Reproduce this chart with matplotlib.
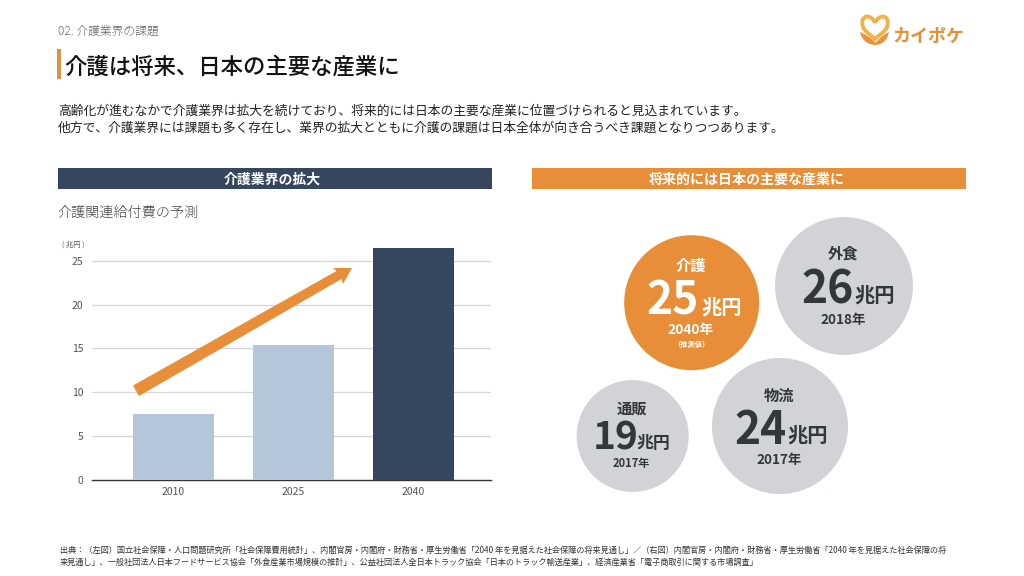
import matplotlib
matplotlib.use('Agg')
import matplotlib.pyplot as plt
from matplotlib.patches import Circle, Rectangle, Polygon, PathPatch
from matplotlib.path import Path

plt.rcParams['font.family'] = ['Noto Sans CJK JP', 'DejaVu Sans']

W, H = 1024, 576

# data
years = ['2010', '2025', '2040']
kyufu = [7.5, 15.4, 26.5]
yticks = [0, 5, 10, 15, 20, 25]
sectors = ['介護', '外食', '物流', '通販']
trillions = ['25', '26', '24', '19']
sector_years = ['2040年', '2018年', '2017年', '2017年']

ORANGE = '#E88E38'
NAVY = '#36465F'
BAR_LIGHT = '#B5C6DA'
GREY = '#D2D3D6'
DARK = '#33363A'

fig = plt.figure(figsize=(W / 100, H / 100), dpi=100, facecolor='white')

# pixel canvas for everything around the chart
bg = fig.add_axes([0, 0, 1, 1])
bg.set_xlim(0, W)
bg.set_ylim(H, 0)
bg.axis('off')


def txt(x, y, s, size, color='#222222', weight='regular', ha='left', ax=bg, zorder=5):
    # the CJK font sits a little high when centred, shift by font size
    ax.text(x, y + 0.15 * size, s, fontsize=size, color=color, fontweight=weight, ha=ha, va='center', zorder=zorder)


# header
txt(58, 29.5, '02. 介護業界の課題', 8.5, '#6A6A6A', 'light')
bg.add_patch(Rectangle((57, 49), 4, 30, color='#DB9445', lw=0))
txt(64.5, 64.5, '介護は将来、日本の主要な産業に', 16.15, '#111111', 'medium')
txt(58, 110, '高齢化が進むなかで介護業界は拡大を続けており、将来的には日本の主要な産業に位置づけられると見込まれています。', 9.22, '#222222')
txt(58, 127, '他方で、介護業界には課題も多く存在し、業界の拡大とともに介護の課題は日本全体が向き合うべき課題となりつつあります。', 9.22, '#222222')

# section bars
bg.add_patch(Rectangle((58, 168), 434, 21, color=NAVY, lw=0))
txt(272, 178, '介護業界の拡大', 10, 'white', 'bold', ha='center')
bg.add_patch(Rectangle((532, 168), 434, 21, color=ORANGE, lw=0))
txt(747, 178, '将来的には日本の主要な産業に', 10.1, 'white', 'bold', ha='center')

txt(57, 211, '介護関連給付費の予測', 10.15, '#444444', 'light')
txt(62, 243.5, '( 兆円 )', 5.2, '#555555')

# logo
heart = Path([(875, 23), (871, 13), (859, 15), (863, 27), (865, 32), (871, 35), (875, 39),
              (879, 35), (885, 32), (887, 27), (891, 15), (879, 13), (875, 23)],
             [Path.MOVETO] + [Path.CURVE4] * 12)
bg.add_patch(PathPatch(heart, fc='none', ec='#F0B24A', lw=2.8))
leaf_l = Path([(860, 32), (862, 41), (868, 45), (877, 45), (873, 39), (867, 35), (860, 32)],
              [Path.MOVETO] + [Path.CURVE4] * 6)
leaf_r = Path([(889, 32), (887, 41), (882, 45), (874, 45), (878, 39), (883, 35), (889, 32)],
              [Path.MOVETO] + [Path.CURVE4] * 6)
bg.add_patch(PathPatch(leaf_l, fc='#E9943C', ec='none'))
bg.add_patch(PathPatch(leaf_r, fc='#E9943C', ec='none'))
txt(928, 34, 'カイポケ', 13, '#E88E38', 'bold', ha='center')

# bar chart
ax = fig.add_axes([92 / W, 1 - 479.5 / H, 399 / W, 236 / H])
ax.set_facecolor('none')
ax.bar(range(3), kyufu, width=0.675, color=[BAR_LIGHT, BAR_LIGHT, NAVY], zorder=3)
ax.set_xlim(-0.677, 2.65)
ax.set_ylim(0, 236 / 8.74)
ax.set_xticks(range(3))
ax.set_xticklabels(years)
ax.set_yticks(yticks)
ax.tick_params(length=0, labelsize=7.5, labelcolor='#555555')
ax.tick_params(axis='x', pad=5.5)
ax.tick_params(axis='y', pad=6)
for v in yticks[1:]:
    ax.axhline(v, color='#D4D6DA', lw=0.9, zorder=1)
for s in ['top', 'left', 'right']:
    ax.spines[s].set_visible(False)
ax.spines['bottom'].set_color('#333333')
ax.spines['bottom'].set_linewidth(1)

# rising arrow over the bars
over = fig.add_axes([0, 0, 1, 1])
over.set_xlim(0, W)
over.set_ylim(H, 0)
over.axis('off')
over.patch.set_alpha(0)
over.add_patch(Polygon([(133, 385.5), (336.5, 271), (333, 268), (352, 268), (343, 284), (341.5, 279), (139, 396)],
                       closed=True, color=ORANGE, lw=0, zorder=4))

# bubbles: centre x, centre y, radius
bubbles = [(691.7, 302.7, 67.5), (844, 286, 69), (780, 426, 68), (632.7, 436, 56)]
num_size = [32, 32, 32, 28]
unit_size = [14.6, 14.6, 14.6, 12.2]
year_size = [9.9, 9.7, 9.7, 8]
name_dy = [-38.7, -33.7, -32, -29]
num_dy = [-6, 0, 0.7, -2]
unit_dy = [2.3, 7, 7, 4.7]
year_dy = [26, 33, 33, 26]
num_dx = [-18.7, -16, -19, -17]
unit_dx = [30.3, 31, 28, 20.3]
for i, (cx, cy, r) in enumerate(bubbles):
    col = 'white' if i == 0 else DARK
    over.add_patch(Circle((cx, cy), r, color=ORANGE if i == 0 else GREY, lw=0, zorder=2))
    txt(cx - 1, cy + name_dy[i], sectors[i], 11, col, 'bold', 'center', over)
    txt(cx + num_dx[i], cy + num_dy[i], trillions[i], num_size[i], col, 'bold', 'center', over)
    txt(cx + unit_dx[i], cy + unit_dy[i], '兆円', unit_size[i], col, 'bold', 'center', over)
    txt(cx - 1, cy + year_dy[i], sector_years[i], year_size[i], col, 'bold', 'center', over)
txt(691, 343.5, '\uff08推測値\uff09', 5.2, 'white', 'bold', 'center', over)

# source
src1 = ('出典\uff1a\uff08左図\uff09国立社会保障・人口問題研究所「社会保障費用統計」、内閣官房・内閣府・財務省・厚生労働省'
        '「2040 年を見据えた社会保障の将来見通し」\uff0f\uff08右図\uff09内閣官房・内閣府・財務省・厚生労働省'
        '「2040 年を見据えた社会保障の将')
src2 = ('来見通し」、一般社団法人日本フードサービス協会「外食産業市場規模の推計」、公益社団法人全日本トラック協会'
        '「日本のトラック輸送産業」、経済産業省「電子商取引に関する市場調査」')
txt(60, 549.5, src1, 5.9, '#333333', ax=over)
txt(60, 561.5, src2, 5.9, '#333333', ax=over)

fig.savefig('out.png', dpi=100)
